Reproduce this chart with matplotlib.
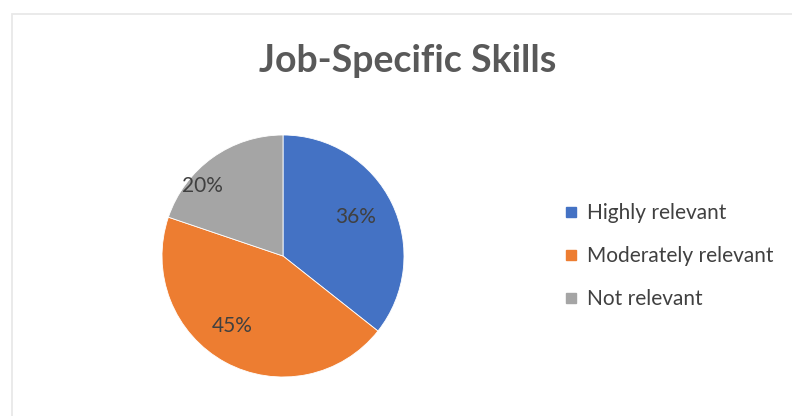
import matplotlib
matplotlib.use("Agg")
import matplotlib.pyplot as plt
from matplotlib.patches import Rectangle
from matplotlib.lines import Line2D
import numpy as np

categories = ["Highly relevant", "Moderately relevant", "Not relevant"]
shares = [36, 45, 20]
colors = ["#4472C4", "#ED7D31", "#A5A5A5"]

plt.rcParams["font.family"] = ["Lato", "DejaVu Sans"]

W, H = 792, 416
fig = plt.figure(figsize=(W / 100, H / 100), dpi=100)

# light chart-area border
fig.patches.append(Rectangle((11.5 / W, -0.05), 1.0, (H - 13.5) / H + 0.05,
                             transform=fig.transFigure, fill=False,
                             edgecolor="#E8E8E8", linewidth=1.3))

fig.text(408 / W, 1 - 61 / H, "Job-Specific Skills", ha="center", va="center",
         fontsize=27, fontweight="bold", color="#595959")

cx, cy, r = 283, 256, 121
ax = fig.add_axes([(cx - r) / W, (H - cy - r) / H, 2 * r / W, 2 * r / H])
wedges, _, autotexts = ax.pie(shares, colors=colors, startangle=90,
                              counterclock=False, radius=1.0,
                              autopct="%.0f%%", pctdistance=0.7,
                              wedgeprops=dict(linewidth=0.6, edgecolor="white"),
                              textprops=dict(fontsize=15, color="#404040"))
ax.set_xlim(-1, 1)
ax.set_ylim(-1, 1)
ax.set_aspect("equal")
ax.axis("off")

# nudge the percentage labels to sit where they read best
label_pos = [(0.68, 28), (0.72, -126), (0.88, 139)]
for t, (rr, ang) in zip(autotexts, label_pos):
    a = np.deg2rad(ang)
    t.set_position((rr * np.cos(a), rr * np.sin(a)))

handles = [Line2D([], [], marker="s", linestyle="none", markersize=7.5,
                  markerfacecolor=c, markeredgecolor=c) for c in colors]
fig.legend(handles, categories, loc="center left",
           bbox_to_anchor=(542 / W, 1 - 256 / H), frameon=False,
           fontsize=15, labelcolor="#404040", handletextpad=0.25,
           labelspacing=1.1, handlelength=1.0)

fig.savefig("out.png", dpi=100, facecolor="white")
